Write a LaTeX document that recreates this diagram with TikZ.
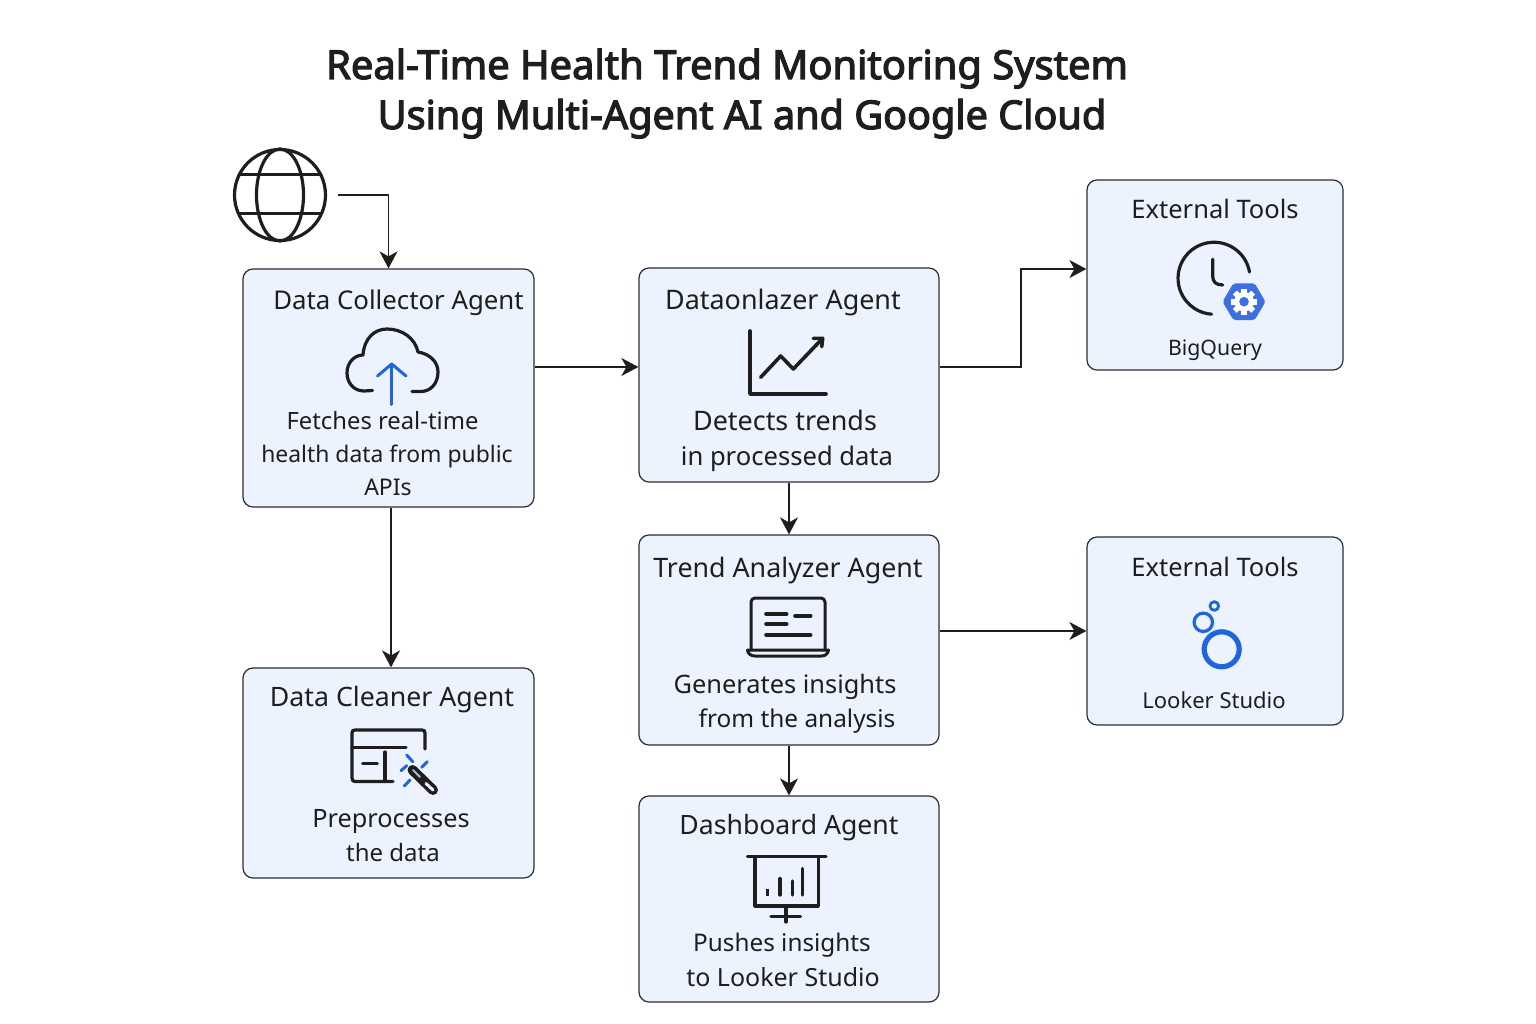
\documentclass[tikz,border=0pt]{standalone}
\usepackage{fontspec}
\setmainfont{Noto Sans}
\newfontfamily\titlefont[FakeBold=3]{Noto Sans}
\usetikzlibrary{arrows.meta}
\definecolor{boxfill}{HTML}{EDF3FE}
\definecolor{boxline}{HTML}{2A2E33}
\definecolor{inkc}{HTML}{1E1E1E}
\definecolor{blueic}{HTML}{1F66DC}
\definecolor{hexc}{HTML}{3C70E2}

\tikzset{
  agent/.style={draw=boxline,fill=boxfill,line width=1.2pt,rounded corners=10pt,inner sep=0pt},
  flow/.style={draw=inkc,line width=1.6pt,-{Stealth[length=17pt,width=18pt,inset=5pt]}},
  lbl/.style={anchor=base,inner sep=0pt,text=inkc,font=\fontsize{#1}{30}\selectfont},
  lbl/.default=25,
  ttl/.style={anchor=base,inner sep=0pt,text=inkc,font=\titlefont\fontsize{#1}{44}\selectfont},
  icon/.style={draw=inkc,line width=3.2pt,line cap=round,line join=round},
  iconb/.style={draw=blueic,line width=3pt,line cap=round,line join=round}
}

\begin{document}
\begin{tikzpicture}[x=1pt,y=-1pt]

    \useasboundingbox (0,0) rectangle (1536,1024);

    % title
    \node[ttl=39.9] (title1) at (727,79) {Real-Time Health Trend Monitoring System};
    \node[ttl=39.6] (title2) at (742,129) {Using Multi-Agent AI and Google Cloud};

    % boxes
    \node[agent,minimum width=291pt,minimum height=238pt] (collector) at (388.5,388) {};
    \node[agent,minimum width=291pt,minimum height=210pt] (cleaner) at (388.5,773) {};
    \node[agent,minimum width=300pt,minimum height=214pt] (analyzer) at (789,375) {};
    \node[agent,minimum width=300pt,minimum height=210pt] (trend) at (789,640) {};
    \node[agent,minimum width=300pt,minimum height=206pt] (dashboard) at (789,899) {};
    \node[agent,minimum width=256pt,minimum height=190pt] (bigquery) at (1215,275) {};
    \node[agent,minimum width=256pt,minimum height=188pt] (looker) at (1215,631) {};
    \node[draw=inkc,line width=3.2pt,circle,minimum size=91pt,inner sep=0pt] (globe) at (280,195) {};

    % labels
    \node[lbl=25.8] (collectorname) at (398.5,309) {Data Collector Agent};
    \node[lbl=23.8] (collector1) at (382.5,429) {Fetches real-time};
    \node[lbl=22.9] (collector2) at (387,462) {health data from public};
    \node[lbl=23] (collector3) at (388,495) {APIs};

    \node[lbl=26.7] (cleanername) at (392,706) {Data Cleaner Agent};
    \node[lbl=25.3] (cleaner1) at (391,827) {Preprocesses};
    \node[lbl=24] (cleaner2) at (393,861) {the data};

    \node[lbl=26.9] (analyzername) at (783,309) {Dataonlazer Agent};
    \node[lbl=26.9] (analyzer1) at (785,430) {Detects trends};
    \node[lbl=25.6] (analyzer2) at (787,465) {in processed data};

    \node[lbl=26.8] (trendname) at (788,577) {Trend Analyzer Agent};
    \node[lbl=25.4] (trend1) at (785,693) {Generates insights};
    \node[lbl=24.4] (trend2) at (797,727) {from the analysis};

    \node[lbl=26.6] (dashboardname) at (789,834) {Dashboard Agent};
    \node[lbl=24.3] (dashboard1) at (782,951) {Pushes insights};
    \node[lbl=25] (dashboard2) at (783,986) {to Looker Studio};

    \node[lbl=25.5] (bigqueryname) at (1215,219) {External Tools};
    \node[lbl=21.3] (bigquerytool) at (1215,355) {BigQuery};
    \node[lbl=25.5] (lookername) at (1215,576) {External Tools};
    \node[lbl=22] (lookertool) at (1214,708) {Looker Studio};

    % connectors
    \coordinate (bend1) at (0,367);
    \coordinate (bend2) at (1021,269);
    \draw[flow,shorten <=11pt] (globe.east) -| (collector.north);
    \draw[flow] (collector.east |- bend1) -- (analyzer.west |- bend1);
    \draw[flow] ([xshift=2.5pt]collector.south) -- ([xshift=2.5pt]cleaner.north);
    \draw[flow] (analyzer.south) -- (trend.north);
    \draw[flow] (trend.south) -- (dashboard.north);
    \draw[flow] (analyzer.east |- bend1) -| (bend2) -- (bigquery.west |- bend2);
    \draw[flow] (trend.east |- looker.west) -- (looker.west);

    % globe
    \draw[icon] (280,195) ellipse (23.5 and 46);
    \draw[icon] (239,174.5) -- (321,174.5);
    \draw[icon] (239,213.5) -- (321,213.5);

    % cloud
    \draw[icon] (372.5,390.5) -- (364,391) .. controls (353,391) and (347,382) .. (347,373)
        .. controls (347,362) and (355,355) .. (363,355) .. controls (364,339) and (374,329) .. (387,329)
        .. controls (402,329) and (415,338) .. (418,352) .. controls (430,354) and (438,362) .. (438,372)
        .. controls (438,384) and (430,391.5) .. (421,391.5) -- (412,391.5);
    \draw[iconb] (391.7,404.5) -- (391.7,364);
    \draw[iconb] (377.5,376) -- (391.7,364) -- (406,376);

    % cleaner
    \draw[icon] (425,749) -- (425,733) .. controls (425,731) and (424,730) .. (422,730) -- (355,730)
        .. controls (353,730) and (352,731) .. (352,733) -- (352,778) .. controls (352,780.5) and (353,781.5) .. (355,781.5) -- (393,781.5);
    \draw[icon] (352,747.5) -- (406,747.5);
    \draw[icon] (385,752) -- (385,781.5);
    \draw[icon] (362.7,763.5) -- (377.3,763.5);
    \draw[iconb] (406.7,755) -- (412.7,761.7);
    \draw[iconb] (427.3,761.7) -- (421.7,767.3);
    \draw[iconb] (401,770.7) -- (406.7,765.7);
    \draw[iconb] (404.3,786) -- (410,780);
    \draw[icon,line width=10pt] (412.5,770) -- (433,790);
    \draw[draw=boxfill,line width=3pt,line cap=round] (426,783.5) -- (433,790);
    \draw[draw=blueic!45,line width=2pt,line cap=round] (413,770) -- (420,777);

    % chart
    \draw[icon,line width=3.6pt] (750,331) -- (750,394) -- (826,394);
    \draw[icon,line width=3.6pt] (760.7,377.3) -- (780.7,356) -- (793.3,369) -- (821.7,339.3);
    \draw[icon,line width=3.6pt] (813.3,338.3) -- (822.7,338.3) -- (821.7,346.7);

    % laptop
    \draw[icon,line width=3pt,rounded corners=4pt] (751,650) -- (751,598) -- (825,598) -- (825,650);
    \draw[icon,line width=3pt] (747.5,650) -- (828.5,650) .. controls (828,654) and (825,656) .. (821.5,656) -- (755,656) .. controls (751,656) and (748,654) .. (747.5,650) -- cycle;
    \draw[icon,line width=3.6pt] (766,614) -- (786.7,614);
    \draw[icon,line width=3.6pt] (795,615.7) -- (810.7,615.7);
    \draw[icon,line width=3.6pt] (766,624) -- (786.7,624);
    \draw[icon,line width=3.6pt] (766,635) -- (810.7,635);

    % bigquery
    \draw[icon] (1249.5,272) arc (-10:-266:36);
    \draw[icon] (1212.7,259.3) -- (1212.7,276) .. controls (1212.7,282) and (1216,285) .. (1222.7,285);
    \fill[hexc,rounded corners=2pt] (1265.5,301.7) -- (1254.7,320) -- (1233.3,320) -- (1222.5,301.7) -- (1233.3,283.4) -- (1254.7,283.4) -- cycle;
    \foreach \a in {0,45,...,315} {
        \fill[white,rotate around={\a:(1244,301.7)}] (1241.2,288.7) rectangle (1246.8,293);
    }
    \fill[white] (1244,301.7) circle (9.8);
    \fill[hexc] (1244,301.7) circle (4.8);

    % looker
    \draw[blueic,line width=2.8pt] (1214.3,606) circle (4.3);
    \draw[blueic,line width=3.2pt] (1203.3,622.3) circle (9.2);
    \draw[blueic,line width=5.2pt] (1221.7,649.3) circle (17.5);

    % dashboard
    \draw[icon] (747.5,856.7) -- (826,856.7);
    \draw[icon] (755,856.7) -- (755,906) -- (818.3,906) -- (818.3,856.7);
    \draw[icon] (786,906) -- (786,922);
    \draw[icon] (771,916.7) -- (800.5,916.7);
    \draw[icon,line cap=butt] (767.7,889) -- (767.7,896);
    \draw[icon] (780,878.5) -- (780,895);
    \draw[icon] (792.7,881) -- (792.7,895);
    \draw[icon] (802.7,868.5) -- (802.7,895);

\end{tikzpicture}
\end{document}
